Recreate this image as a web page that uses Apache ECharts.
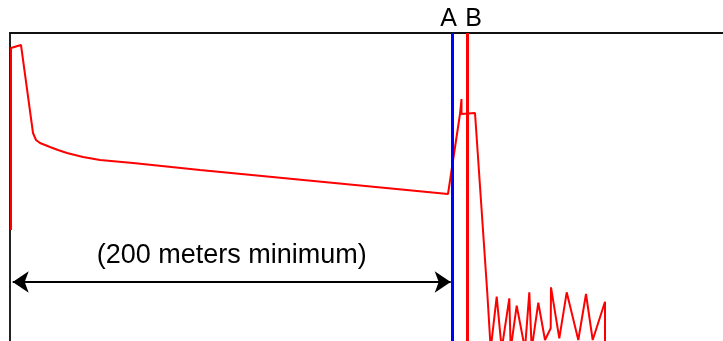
<!DOCTYPE html>
<html><head><meta charset="utf-8">
<script src="https://cdn.jsdelivr.net/npm/echarts@6/dist/echarts.min.js"></script>
<style>html,body{margin:0;padding:0;background:#fff}#c{width:723px;height:341px}</style>
</head><body><div id="c"></div>
<script>
// Trace: distance (x) and level (y), in chart units
const traceX = [1, 1, 11, 23, 26, 30, 40, 48, 57, 73, 90, 123, 190, 438, 440, 450, 451.5, 451.5, 451.5, 465,
  477.3, 480.7, 486.7, 491.7, 499.3, 500.7, 506.7, 515, 519.3, 521.7, 528.3, 535, 540.7, 541, 549.3, 556.7, 568.3, 576, 582.7, 595, 595];
const traceY = [111, 293, 296, 208, 201, 198, 194, 191, 188, 184, 181, 178, 171, 147, 148, 227, 227, 242, 227, 228,
  47.7, -8, 44.3, -8, 42.7, -8, 35.3, -8, 48.7, -8, 38.3, 1, 12.7, 53.7, 2.7, 48.7, 1, 47, 1, 39.3, -8];
const markerX = [442.7, 457.7];
const markerLabels = ['A', 'B'];
const markerColors = ['#0000ff', '#ff0000'];
const spanStart = 2.7, spanEnd = 440.7, spanLevel = 59;
const spanLabel = '(200 meters minimum)';

const chart = echarts.init(document.getElementById('c'), null, {renderer: 'canvas'});
const font = 'Liberation Sans, Arial, sans-serif';
chart.setOption({
  animation: false,
  grid: {left: 10, top: 33, right: 0, bottom: 0},
  xAxis: {type: 'value', min: 0, max: 713, position: 'top',
    axisLine: {show: true, onZero: false, lineStyle: {color: '#111', width: 2}},
    axisTick: {show: false}, axisLabel: {show: false}, splitLine: {show: false}},
  yAxis: {type: 'value', min: 0, max: 308,
    axisLine: {show: true, onZero: false, lineStyle: {color: '#222', width: 2}},
    axisTick: {show: false}, axisLabel: {show: false}, splitLine: {show: false}},
  series: [{
    type: 'line', data: traceX.map((x, i) => [x, traceY[i]]),
    symbol: 'none', clip: true,
    lineStyle: {color: '#ff0000', width: 2},
    markLine: {
      silent: true, symbol: 'none', animation: false,
      label: {show: true, position: 'end', color: '#000', fontSize: 25, fontFamily: font, distance: 1},
      data: markerX.map((x, i) => ({
        xAxis: x,
        lineStyle: {color: markerColors[i], width: 3, type: 'solid'},
        label: {show: true, position: 'end', formatter: markerLabels[i], color: '#000',
          fontSize: 25, fontFamily: font, distance: 1, offset: [i === 0 ? -4 : 6, 0]}
      }))
    }
  }, {
    type: 'line', data: [], symbol: 'none',
    markLine: {
      silent: true, animation: false,
      symbol: ['arrow', 'arrow'], symbolSize: [16, 16],
      data: [[{coord: [spanStart, spanLevel]}, {coord: [spanEnd, spanLevel]}]],
      lineStyle: {color: '#000', width: 2, type: 'solid'},
      label: {show: true, position: 'middle', formatter: spanLabel, color: '#000',
        fontSize: 27, fontFamily: font, distance: 13}
    }
  }]
});
</script></body></html>
